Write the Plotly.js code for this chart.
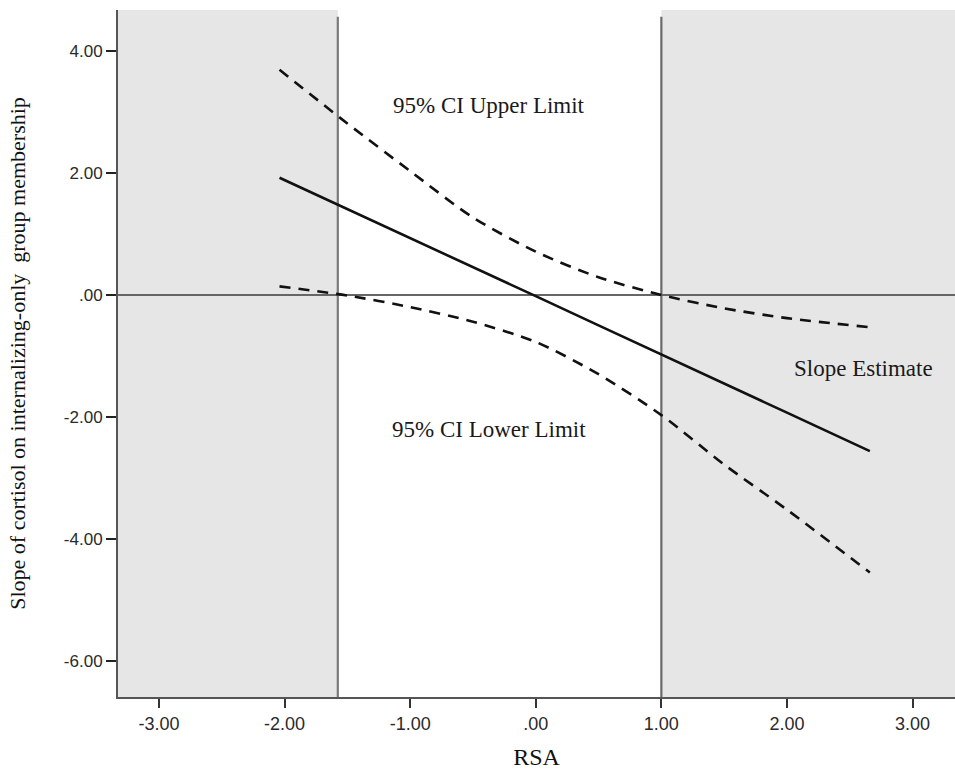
<!DOCTYPE html>
<html>
<head>
<meta charset="utf-8">
<script src="https://cdn.plot.ly/plotly-3.0.1.min.js"></script>
<style>
  html, body { margin: 0; padding: 0; background: #ffffff; }
  #chart { width: 955px; height: 771px; }
</style>
</head>
<body>
<div id="chart"></div>
<script>
// RSA values at which the curves were read
const rsa = [-2.04, -1.5, -1.0, -0.5, 0.0, 0.5, 1.0, 1.5, 2.0, 2.66];
// Slope estimate
const slopeEstimate = [1.92, 1.41, 0.93, 0.46, -0.02, -0.50, -0.98, -1.45, -1.93, -2.56];
// 95% CI upper / lower limits
const ciUpper = [3.69, 2.81, 2.03, 1.27, 0.71, 0.29, 0.00, -0.22, -0.38, -0.53];
const ciLower = [0.14, -0.01, -0.20, -0.44, -0.77, -1.30, -1.97, -2.78, -3.52, -4.55];
// Johnson-Neyman region boundaries (RSA)
const jnBounds = [-1.576, 1.0];
// Axis ticks
const xTickVals = [-3, -2, -1, 0, 1, 2, 3];
const xTickText = ["-3.00", "-2.00", "-1.00", ".00", "1.00", "2.00", "3.00"];
const yTickVals = [-6, -4, -2, 0, 2, 4];
const yTickText = ["-6.00", "-4.00", "-2.00", ".00", "2.00", "4.00"];
// Labels
const labelUpper = "95% CI Upper Limit";
const labelLower = "95% CI Lower Limit";
const labelEst = "Slope Estimate";

const xRange = [-3.326, 3.338];
const yRange = [-6.59, 4.67];

const traces = [
  { x: rsa, y: ciUpper, mode: "lines", line: { color: "#111", width: 2.6, dash: "11px,8px", shape: "spline", smoothing: 0.8 }, hoverinfo: "skip", name: labelUpper },
  { x: rsa, y: ciLower, mode: "lines", line: { color: "#111", width: 2.6, dash: "11px,8px", shape: "spline", smoothing: 0.8 }, hoverinfo: "skip", name: labelLower },
  { x: rsa, y: slopeEstimate, mode: "lines", line: { color: "#111", width: 2.6 }, hoverinfo: "skip", name: labelEst }
];

const shapes = [
  { type: "rect", xref: "x", yref: "paper", x0: xRange[0], x1: jnBounds[0], y0: 0, y1: 1, fillcolor: "#e6e6e6", line: { width: 0 }, layer: "below" },
  { type: "rect", xref: "x", yref: "paper", x0: jnBounds[1], x1: xRange[1], y0: 0, y1: 1, fillcolor: "#e6e6e6", line: { width: 0 }, layer: "below" },
  { type: "line", xref: "x", yref: "paper", x0: jnBounds[0], x1: jnBounds[0], y0: 0, y1: 0.99, line: { color: "#7a7a7a", width: 2.2 }, layer: "below" },
  { type: "line", xref: "x", yref: "paper", x0: jnBounds[1], x1: jnBounds[1], y0: 0, y1: 0.99, line: { color: "#6a6a6a", width: 2.2 }, layer: "below" },
  { type: "line", xref: "paper", yref: "y", x0: 0, x1: 1, y0: 0, y1: 0, line: { color: "#666666", width: 2 }, layer: "below" }
];

const serif = "Liberation Serif, Times New Roman, serif";
const annotations = [
  { x: -0.37, y: 3.11, xref: "x", yref: "y", text: labelUpper, showarrow: false, font: { family: serif, size: 23, color: "#1a1a1a" } },
  { x: -0.37, y: -2.21, xref: "x", yref: "y", text: labelLower, showarrow: false, font: { family: serif, size: 23, color: "#1a1a1a" } },
  { x: 2.61, y: -1.2, xref: "x", yref: "y", text: labelEst, showarrow: false, font: { family: serif, size: 23, color: "#1a1a1a" } }
];

const layout = {
  width: 955, height: 771,
  margin: { l: 118, r: 0, t: 10, b: 74 },
  paper_bgcolor: "#ffffff",
  plot_bgcolor: "#ffffff",
  showlegend: false,
  xaxis: {
    range: xRange, tickvals: xTickVals, ticktext: xTickText,
    showgrid: false, zeroline: false,
    showline: true, linecolor: "#555", linewidth: 2,
    ticks: "outside", ticklen: 9, tickwidth: 2, tickcolor: "#333",
    tickfont: { family: "Liberation Sans, Arial, sans-serif", size: 18, color: "#2a2a2a" },
    title: { text: "RSA", font: { family: serif, size: 24, color: "#111" }, standoff: 16 },
    automargin: false
  },
  yaxis: {
    range: yRange, tickvals: yTickVals, ticktext: yTickText,
    showgrid: false, zeroline: false,
    showline: true, linecolor: "#555", linewidth: 2,
    ticks: "outside", ticklen: 10, tickwidth: 2, tickcolor: "#222",
    tickfont: { family: "Liberation Sans, Arial, sans-serif", size: 17, color: "#2a2a2a" },
    title: { text: "Slope of cortisol on internalizing-only&nbsp; group membership", font: { family: serif, size: 22, color: "#111" }, standoff: 32 },
    automargin: false
  },
  shapes: shapes,
  annotations: annotations
};

Plotly.newPlot("chart", traces, layout, { staticPlot: true, displayModeBar: false });
</script>
</body>
</html>
